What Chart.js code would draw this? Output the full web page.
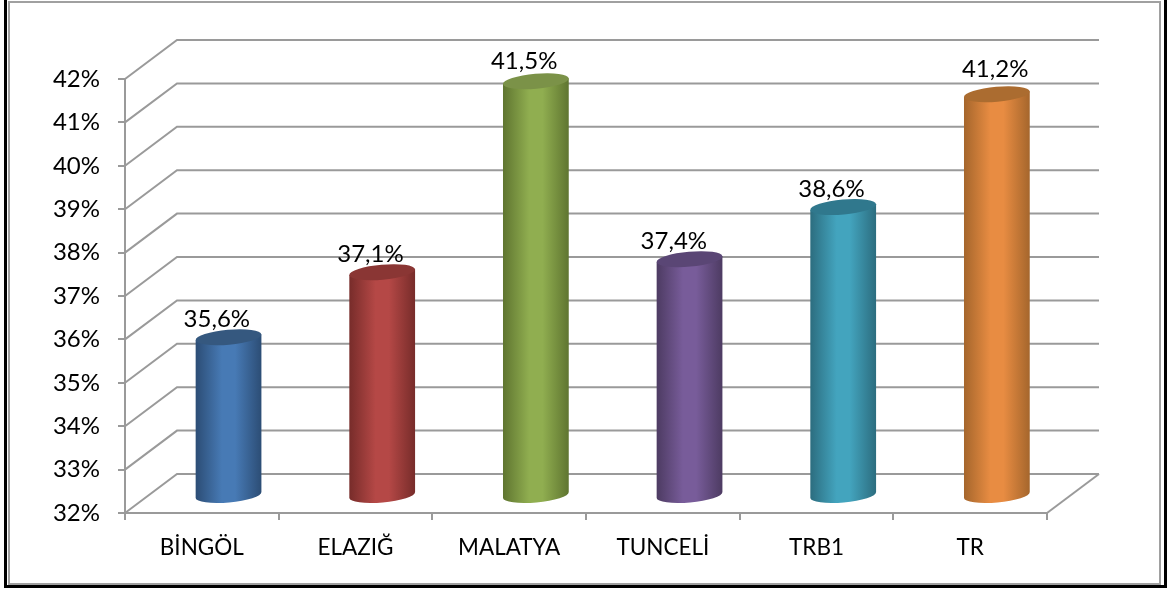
<!DOCTYPE html>
<html>
<head>
<meta charset="utf-8">
<script src="https://cdn.jsdelivr.net/npm/chart.js@4"></script>
<style>
    html, body { margin: 0; padding: 0; background: #fff; overflow: hidden; }
    #wrap { position: relative; width: 1167px; height: 589px; }
    #outer { position: absolute; left: 4px; top: 0; width: 1157px; height: 585px; border: solid #000; border-width: 0 3px 3px 3px; }
    #inner { position: absolute; left: 8px; top: 1px; width: 1149px; height: 580px; border: 2px solid #a0a0a0; }
    canvas { position: absolute; left: 0; top: 0; }
</style>
</head>
<body>
<div id="wrap">
    <div id="outer"></div>
    <div id="inner"></div>
    <canvas id="chart" width="1167" height="589"></canvas>
</div>
<script>
const categories = ['BİNGÖL', 'ELAZIĞ', 'MALATYA', 'TUNCELİ', 'TRB1', 'TR'];
const values = [35.6, 37.1, 41.5, 37.4, 38.6, 41.2];
const yMin = 32;
const yMax = 42;

// light middle, dark edge, dark top of each cylinder
const barLight = ['#477ab5', '#b54846', '#90ae50', '#785c9a', '#43a4be', '#e88c42'];
const barDark = ['#2c4d75', '#772c2a', '#5f7530', '#4d3b62', '#2c6d7f', '#a5662c'];
const barTop = ['#35587f', '#8a3634', '#7b9248', '#5a4675', '#30788d', '#ab6c30'];

const fontName = 'Lato, "Open Sans", sans-serif';
const gridColor = '#9a9a9a';
const depthX = 52;
const depthY = 39;

// back wall and floor, drawn from the y scale ticks
const wallPlugin = {
    id: 'wall',
    beforeDatasetsDraw(chart) {
        const ctx = chart.ctx;
        const yScale = chart.scales.y;
        const area = chart.chartArea;
        ctx.save();
        ctx.strokeStyle = gridColor;
        ctx.lineWidth = 2;
        yScale.ticks.forEach(t => {
            const y = yScale.getPixelForValue(t.value);
            ctx.beginPath();
            ctx.moveTo(area.left, y);
            ctx.lineTo(area.left + depthX, y - depthY);
            ctx.lineTo(area.right + depthX, y - depthY);
            ctx.stroke();
        });
        ctx.beginPath();
        ctx.moveTo(area.right + depthX, area.bottom - depthY);
        ctx.lineTo(area.right, area.bottom);
        ctx.stroke();
        ctx.restore();
    }
};

// replaces the flat bars with cylinders, using the positions of the bar elements
const cylinderPlugin = {
    id: 'cylinder',
    beforeDatasetDraw(chart, args) {
        const ctx = chart.ctx;
        const rot = -5 * Math.PI / 180;
        const basePixel = chart.scales.y.getPixelForValue(yMin);
        args.meta.data.forEach((bar, i) => {
            const cx = bar.x + depthX / 2 + 0.7;
            const top = bar.y - depthY / 2;
            const bottom = basePixel - depthY / 2 + 1.5;
            const rx = bar.width / 2 + 0.5;
            const ry = 7.5;
            const dx = rx * Math.cos(rot);
            const dy = rx * Math.sin(rot);

            const grad = ctx.createLinearGradient(cx - dx, 0, cx + dx, 0);
            grad.addColorStop(0, barDark[i]);
            grad.addColorStop(0.4, barLight[i]);
            grad.addColorStop(0.6, barLight[i]);
            grad.addColorStop(1, barDark[i]);

            ctx.save();
            ctx.fillStyle = grad;
            ctx.beginPath();
            ctx.moveTo(cx - dx, top - dy);
            ctx.lineTo(cx - dx, bottom - dy);
            ctx.ellipse(cx, bottom, rx, ry, rot, Math.PI, 0, true);
            ctx.lineTo(cx + dx, top + dy);
            ctx.closePath();
            ctx.fill();

            ctx.fillStyle = barTop[i];
            ctx.beginPath();
            ctx.ellipse(cx, top, rx, ry, rot, 0, Math.PI * 2);
            ctx.fill();
            ctx.restore();
        });
        return false;
    },
    afterDatasetsDraw(chart) {
        const ctx = chart.ctx;
        const meta = chart.getDatasetMeta(0);
        const nudgeX = [0, 0, 0, -4, 0, 10];
        const nudgeY = [0, 0, -2, 0, 0, -7];
        ctx.save();
        ctx.font = '24px ' + fontName;
        ctx.fillStyle = '#000';
        ctx.textAlign = 'center';
        ctx.textBaseline = 'middle';
        meta.data.forEach((bar, i) => {
            const label = values[i].toFixed(1).replace('.', ',') + '%';
            ctx.fillText(label, bar.x + 15 + nudgeX[i], bar.y - 37 + nudgeY[i]);
        });
        ctx.restore();
    }
};

new Chart(document.getElementById('chart').getContext('2d'), {
    type: 'bar',
    data: {
        labels: categories,
        datasets: [{
            data: values,
            backgroundColor: barLight,
            barThickness: 65
        }]
    },
    options: {
        responsive: false,
        animation: false,
        layout: {
            padding: { top: 79, right: 120, bottom: 0, left: 0 }
        },
        plugins: {
            legend: { display: false },
            tooltip: { enabled: false }
        },
        scales: {
            x: {
                afterFit: scale => { scale.height = 76; },
                border: { color: gridColor, width: 2 },
                grid: { drawOnChartArea: false, color: gridColor, lineWidth: 2, tickLength: 7 },
                ticks: {
                    color: '#000',
                    padding: 14,
                    maxRotation: 0,
                    font: { family: fontName, size: 22.5 }
                }
            },
            y: {
                min: yMin,
                max: yMax,
                afterFit: scale => { scale.width = 125; },
                border: { color: gridColor, width: 2 },
                grid: { drawOnChartArea: false, color: gridColor, lineWidth: 2, tickLength: 7 },
                ticks: {
                    stepSize: 1,
                    color: '#000',
                    padding: 18,
                    font: { family: fontName, size: 24 },
                    callback: v => v + '%'
                }
            }
        }
    },
    plugins: [wallPlugin, cylinderPlugin]
});
</script>
</body>
</html>
